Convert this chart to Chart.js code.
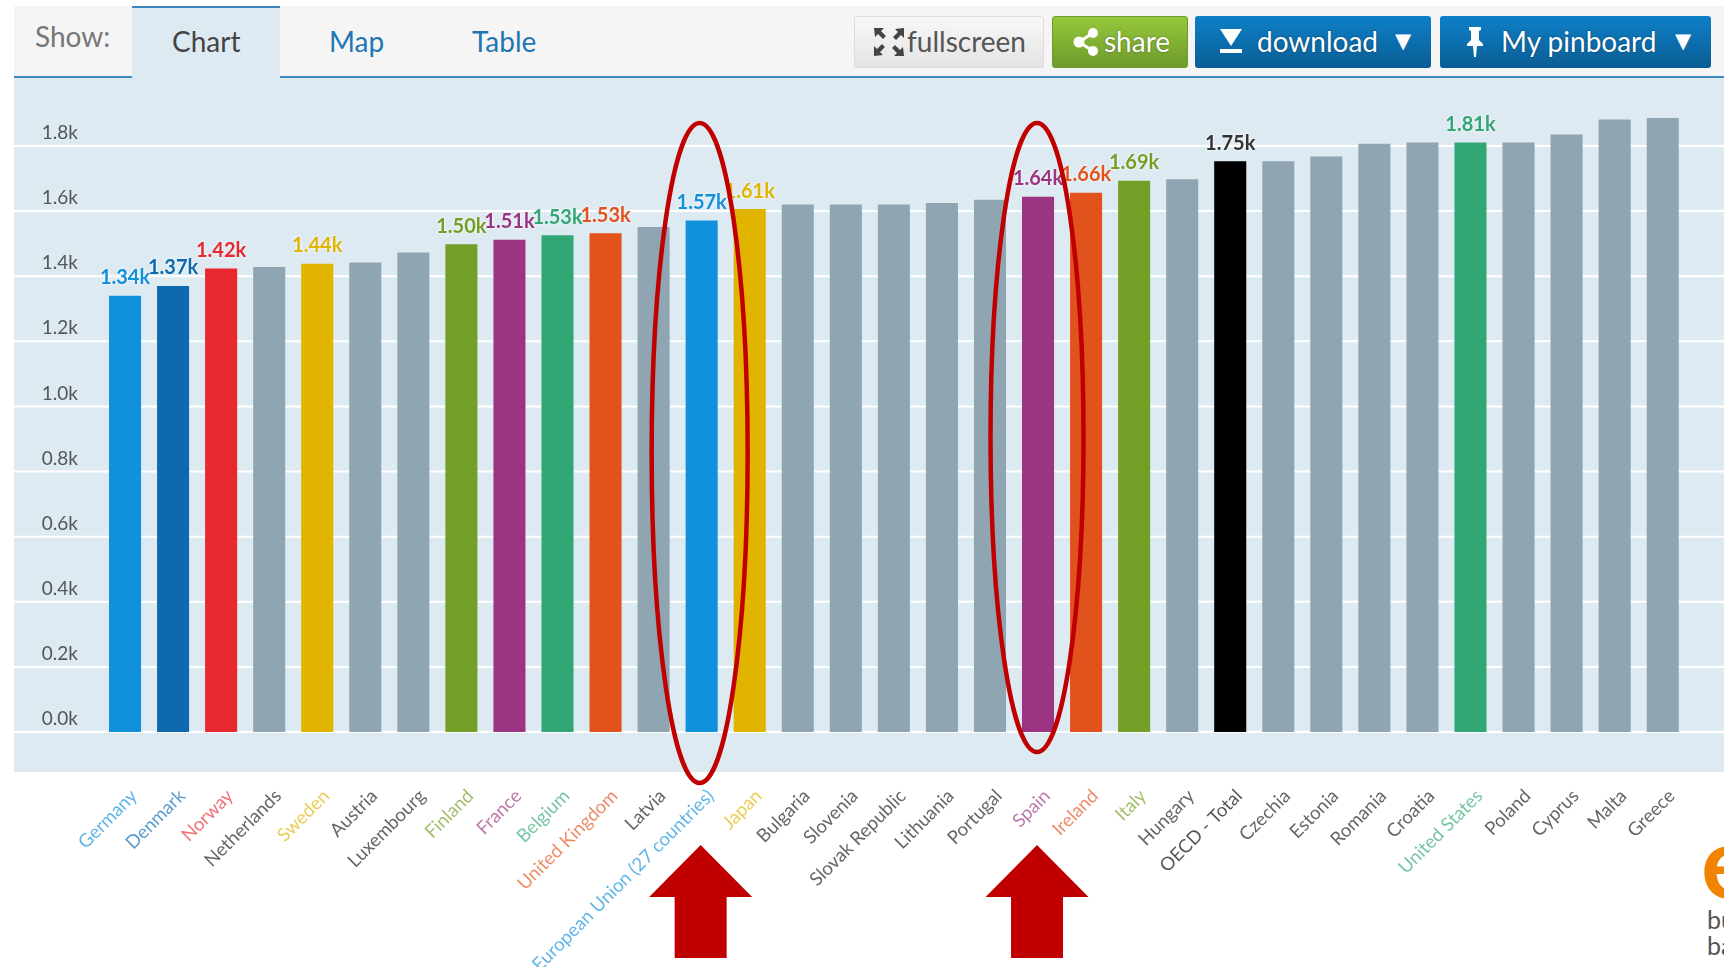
<!DOCTYPE html>
<html lang="en">
<head>
  <meta charset="UTF-8">
  <title>OECD chart</title>
  <script src="https://cdn.jsdelivr.net/npm/chart.js"></script>
  <style>
    html, body { margin: 0; background: #fff; overflow: hidden; }
    body { width: 1724px; height: 967px; position: relative; font-family: Lato, sans-serif; }
    .abs { position: absolute; white-space: nowrap; }
    #toolbar { left: 14px; top: 6px; width: 1710px; height: 70px; background: #f5f5f5; border-bottom: 2px solid #3d87bf; }
    #tab { left: 132px; top: 6px; width: 148px; height: 72px; background: #deeaf2; border-top: 2px solid #3d87bf; box-sizing: border-box; }
    #panel { left: 14px; top: 78px; width: 1710px; height: 694px; background: #deeaf2; }
    .tabtext { font-size: 28px; line-height: 40px; top: 21px; color: #1f76b4; }
    .btn { top: 16px; height: 52px; box-sizing: border-box; border-radius: 3px; }
    .btntext { font-size: 28px; line-height: 40px; top: 21px; color: #fff; text-shadow: 0 0 2px rgba(0,0,0,.45); }
    .arrow { font: 21px 'DejaVu Sans', sans-serif; line-height: 40px; top: 21px; color: #fff; }
    .blue { background: linear-gradient(#0e80c8, #0a5d94); }
    canvas { position: absolute; left: 0; top: 0; }
  </style>
</head>

<body>
  <div class="abs" id="toolbar"></div>
  <div class="abs" id="tab"></div>
  <div class="abs" id="panel"></div>

  <div class="abs tabtext" style="left:35px;top:16px;color:#777">Show:</div>
  <div class="abs tabtext" style="left:172px;color:#444">Chart</div>
  <div class="abs tabtext" style="left:329px">Map</div>
  <div class="abs tabtext" style="left:472px">Table</div>

  <div class="abs btn" style="left:854px;width:190px;background:linear-gradient(#f8f8f8,#e4e4e4);border:1px solid #ddd"></div>
  <svg class="abs" style="left:873px;top:27px" width="32" height="30" viewBox="0 0 32 30" fill="#444">
    <path d="M1 1h10l-3 3 5 5-3 3-5-5-3 3zM31 1v10l-3-3-5 5-3-3 5-5-3-3zM1 29V19l3 3 5-5 3 3-5 5 3 3zM31 29H21l3-3-5-5 3-3 5 5 3-3z"/>
  </svg>
  <div class="abs btntext" style="left:907px;color:#555;text-shadow:none">fullscreen</div>

  <div class="abs btn" style="left:1052px;width:136px;background:linear-gradient(#97c83b,#6d9a2c);border:1px solid #6d9a2c"></div>
  <svg class="abs" style="left:1073px;top:28px" width="26" height="28" viewBox="0 0 26 28">
    <path d="M20 5L6 14l14 9" fill="none" stroke="#fff" stroke-width="3"/>
    <circle cx="20" cy="5" r="5" fill="#fff"/><circle cx="6" cy="14" r="5.5" fill="#fff"/><circle cx="20" cy="23" r="5" fill="#fff"/>
  </svg>
  <div class="abs btntext" style="left:1104px">share</div>

  <div class="abs btn blue" style="left:1195px;width:236px"></div>
  <svg class="abs" style="left:1218px;top:28px" width="26" height="26" viewBox="0 0 26 26" fill="#fff">
    <path d="M2 1h22L13 18z"/><rect x="2" y="21" width="22" height="4"/>
  </svg>
  <div class="abs btntext" style="left:1257px">download</div>
  <div class="abs arrow" style="left:1395px">▼</div>

  <div class="abs btn blue" style="left:1440px;width:271px"></div>
  <svg class="abs" style="left:1463px;top:26px" width="24" height="32" viewBox="0 0 24 32" fill="#fff">
    <path d="M6 1h12v3l-2 1v9l4 4v2H14l-1 11h-2l-1-11H4v-2l4-4V5L6 4z"/>
  </svg>
  <div class="abs btntext" style="left:1501px">My pinboard</div>
  <div class="abs arrow" style="left:1675px">▼</div>

  <!-- logo cut off by the right edge in the original -->
  <div class="abs" style="left:1701px;top:809px;font:bold 100px Lato,sans-serif;color:#f08300;line-height:100px">e</div>
  <div class="abs" style="left:1707px;top:906px;font-size:25px;line-height:26px;color:#555">bu<br>ba</div>

  <canvas id="oecdChart" width="1724" height="967"></canvas>

  <script>
    const categories = ['Germany', 'Denmark', 'Norway', 'Netherlands', 'Sweden', 'Austria', 'Luxembourg', 'Finland',
      'France', 'Belgium', 'United Kingdom', 'Latvia', 'European Union (27 countries)', 'Japan', 'Bulgaria', 'Slovenia',
      'Slovak Republic', 'Lithuania', 'Portugal', 'Spain', 'Ireland', 'Italy', 'Hungary', 'OECD - Total', 'Czechia',
      'Estonia', 'Romania', 'Croatia', 'United States', 'Poland', 'Cyprus', 'Malta', 'Greece'];
    const values = [1340, 1370, 1424, 1428, 1438, 1442, 1473, 1498, 1512, 1526, 1532, 1551, 1571, 1606, 1620, 1620,
      1620, 1625, 1635, 1644, 1656, 1693, 1698, 1753, 1753, 1768, 1807, 1811, 1811, 1811, 1835, 1881, 1886];
    const yTicks = [0, 200, 400, 600, 800, 1000, 1200, 1400, 1600, 1800];
    const circled = ['European Union (27 countries)', 'Spain'];

    // countries picked out in the original, everything else stays grey
    const barColors = {
      'Germany': '#1190dc', 'Denmark': '#0e69af', 'Norway': '#e8282f', 'Sweden': '#e1b400', 'Finland': '#739f26',
      'France': '#9a3483', 'Belgium': '#32a674', 'United Kingdom': '#e2521d', 'European Union (27 countries)': '#1190dc',
      'Japan': '#e1b400', 'Spain': '#9a3483', 'Ireland': '#e2521d', 'Italy': '#739f26', 'OECD - Total': '#000000',
      'United States': '#32a674'
    };
    const greyBar = '#8fa5b2';
    const greyText = '#666666';
    const red = '#c00000';

    // white lines run the whole panel width, not just the plot area
    const panelLines = {
      id: 'panelLines',
      beforeDatasetsDraw(chart) {
        const ctx = chart.ctx, y = chart.scales.y;
        ctx.save();
        ctx.strokeStyle = '#ffffff';
        ctx.lineWidth = 2;
        yTicks.forEach(t => {
          const py = y.getPixelForValue(t);
          ctx.beginPath();
          ctx.moveTo(14, py);
          ctx.lineTo(1724, py);
          ctx.stroke();
        });
        ctx.restore();
      }
    };

    const valueLabels = {
      id: 'valueLabels',
      afterDatasetsDraw(chart) {
        const ctx = chart.ctx;
        ctx.save();
        ctx.font = 'bold 20px Lato';
        ctx.textAlign = 'center';
        ctx.textBaseline = 'bottom';
        ctx.shadowColor = '#ffffff';
        ctx.shadowBlur = 3;
        chart.getDatasetMeta(0).data.forEach((bar, i) => {
          const color = barColors[categories[i]];
          if (!color) return;
          ctx.fillStyle = color === '#000000' ? '#333333' : color;
          ctx.fillText((values[i] / 1000).toFixed(2) + 'k', bar.x, bar.y - 8);
        });
        ctx.restore();
      }
    };

    // red ellipses and arrows drawn by hand on top of the screenshot
    const callouts = {
      id: 'callouts',
      afterDraw(chart) {
        const ctx = chart.ctx, x = chart.scales.x;
        ctx.save();
        ctx.strokeStyle = red;
        ctx.fillStyle = red;
        ctx.lineWidth = 4.5;
        circled.forEach((name, n) => {
          const cx = x.getPixelForValue(categories.indexOf(name)) - 1;
          const bottom = n === 0 ? 783 : 752;
          const rx = n === 0 ? 48 : 46.5;
          ctx.beginPath();
          ctx.ellipse(n === 0 ? cx - 1 : cx, (123 + bottom) / 2, rx, (bottom - 123) / 2, 0, 0, Math.PI * 2);
          ctx.stroke();

          ctx.beginPath();
          ctx.moveTo(cx, 845);
          ctx.lineTo(cx + 51.5, 897);
          ctx.lineTo(cx + 26, 897);
          ctx.lineTo(cx + 26, 958);
          ctx.lineTo(cx - 26, 958);
          ctx.lineTo(cx - 26, 897);
          ctx.lineTo(cx - 51.5, 897);
          ctx.closePath();
          ctx.fill();
        });
        ctx.restore();
      }
    };

    new Chart(document.getElementById('oecdChart').getContext('2d'), {
      type: 'bar',
      data: {
        labels: categories,
        datasets: [{
          data: values,
          backgroundColor: categories.map(c => barColors[c] || greyBar),
          barPercentage: 0.667,
          categoryPercentage: 1
        }]
      },
      options: {
        responsive: false,
        animation: false,
        layout: { padding: { top: 113.4, right: 34, left: 0, bottom: 0 } },
        plugins: { legend: { display: false }, tooltip: { enabled: false } },
        scales: {
          x: {
            border: { display: false },
            grid: { display: false },
            afterFit(scale) { scale.height = 235; },
            ticks: {
              autoSkip: false,
              maxRotation: 45,
              minRotation: 45,
              padding: 45,
              labelOffset: 9,
              font: { family: 'Lato', size: 18.6 },
              color: ctx => barColors[categories[ctx.index]] ? barColors[categories[ctx.index]] + 'aa' : greyText
            }
          },
          y: {
            min: 0,
            max: 1900,
            border: { display: false },
            grid: { display: false, drawTicks: false },
            afterFit(scale) { scale.width = 101; },
            afterBuildTicks(scale) { scale.ticks = yTicks.map(v => ({ value: v })); },
            ticks: {
              padding: 23,
              labelOffset: -13,
              color: '#555555',
              font: { family: 'Lato', size: 19 },
              callback: v => (v / 1000).toFixed(1) + 'k'
            }
          }
        }
      },
      plugins: [panelLines, valueLabels, callouts]
    });
  </script>
</body>
</html>
